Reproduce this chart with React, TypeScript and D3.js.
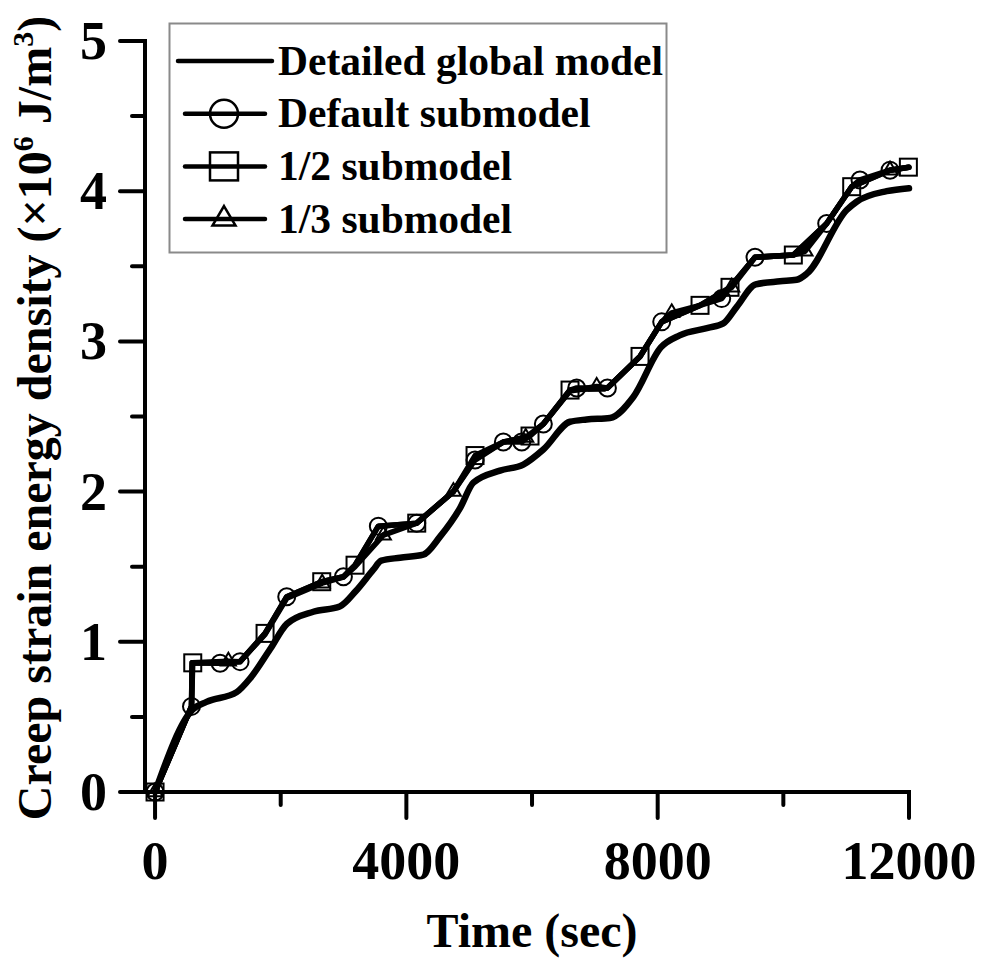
import React from 'react';
import * as d3 from 'd3';

// ---------- data ----------
const xTicksMajor = [0, 4000, 8000, 12000];
const xTicksMinor = [2000, 6000, 10000];
const yTicksMajor = [0, 1, 2, 3, 4, 5];
const yTicksMinor = [0.5, 1.5, 2.5, 3.5, 4.5];

const legendLabels = ['Detailed global model', 'Default submodel', '1/2 submodel', '1/3 submodel'];

// Detailed global model: [time (s), density]
const globalModel: [number, number][] = [
  [0, 0], [600, 0.55], [820, 0.6], [1300, 0.665], [1520, 0.76], [1830, 0.95], [2100, 1.12],
  [2520, 1.2], [2940, 1.235], [3200, 1.34], [3474, 1.48], [3600, 1.54], [3900, 1.56],
  [4270, 1.58], [4536, 1.7], [4854, 1.89], [5066, 2.06], [5490, 2.14], [5862, 2.18],
  [6180, 2.28], [6605, 2.465], [6870, 2.48], [7241, 2.49], [7612, 2.63], [8050, 2.96],
  [8350, 3.04], [8800, 3.09], [9045, 3.12], [9258, 3.23], [9560, 3.38], [9947, 3.4],
  [10212, 3.41], [10371, 3.45], [11008, 3.875], [11167, 3.93], [11645, 4.0], [12000, 4.02],
];

// submodels: [time, density, marker shown (1) or not (0)]
const defaultSub: [number, number, number][] = [
  [0, 0, 1], [580, 0.57, 1], [590, 0.86, 0], [1035, 0.857, 1], [1353, 0.868, 1], [1751, 1.056, 0],
  [2096, 1.3, 1], [2653, 1.4, 0], [2998, 1.433, 1], [3183, 1.51, 0], [3554, 1.77, 1], [4165, 1.79, 1],
  [4748, 2.0, 0], [5093, 2.21, 1], [5544, 2.33, 1], [5836, 2.33, 1], [6180, 2.45, 1], [6605, 2.676, 0],
  [6711, 2.69, 1], [7200, 2.69, 1], [7719, 2.9, 0], [8064, 3.13, 1], [8674, 3.24, 0], [9019, 3.285, 1],
  [9151, 3.36, 0], [9549, 3.56, 1], [10159, 3.575, 0], [10690, 3.785, 1], [11088, 4.03, 0],
  [11220, 4.075, 1], [11698, 4.14, 1], [12000, 4.16, 0],
];

const halfSub: [number, number, number][] = [
  [0, 0, 1], [580, 0.57, 0], [600, 0.86, 1], [1035, 0.857, 0], [1353, 0.868, 0], [1751, 1.056, 1],
  [2096, 1.3, 0], [2653, 1.4, 1], [2998, 1.433, 0], [3183, 1.51, 1], [3554, 1.77, 0], [4165, 1.79, 1],
  [4748, 2.0, 0], [5093, 2.24, 1], [5544, 2.33, 0], [5968, 2.37, 1], [6180, 2.45, 0], [6605, 2.676, 1],
  [7200, 2.69, 0], [7719, 2.9, 1], [8064, 3.13, 0], [8674, 3.24, 1], [9151, 3.36, 1], [9549, 3.56, 0],
  [10159, 3.575, 1], [10690, 3.785, 0], [11088, 4.03, 1], [11698, 4.14, 0], [11990, 4.16, 1],
];

const thirdSub: [number, number, number][] = [
  [0, 0, 1], [580, 0.57, 0], [590, 0.86, 0], [1167, 0.87, 1], [1353, 0.868, 0], [1751, 1.05, 0],
  [2096, 1.29, 0], [2660, 1.39, 1], [2998, 1.43, 0], [3183, 1.5, 0], [3634, 1.71, 1], [4165, 1.79, 0],
  [4748, 2.0, 1], [5093, 2.22, 0], [5544, 2.33, 0], [5900, 2.36, 1], [6180, 2.45, 0], [6605, 2.67, 0],
  [7029, 2.7, 1], [7200, 2.69, 0], [7719, 2.9, 0], [8064, 3.13, 0], [8223, 3.19, 1], [8674, 3.24, 0],
  [9178, 3.36, 1], [9549, 3.56, 0], [10159, 3.575, 0], [10345, 3.6, 1], [10690, 3.785, 0],
  [11088, 4.03, 0], [11698, 4.14, 1], [12000, 4.16, 0],
];

// ---------- layout ----------
const W = 984;
const H = 958;
const FONT = '"Liberation Serif", "Times New Roman", serif';

const x = d3.scaleLinear().domain([-160, 12000]).range([145, 909]);
const y = d3.scaleLinear().domain([0, 5]).range([792, 41]);

const globalLine = d3.line<[number, number]>()
  .x(d => x(d[0])).y(d => y(d[1])).curve(d3.curveMonotoneX);
const subLine = d3.line<[number, number, number]>()
  .x(d => x(d[0])).y(d => y(d[1]));

type Shape = 'circle' | 'square' | 'triangle';

function Marker({ cx, cy, shape, s, sw }: { cx: number; cy: number; shape: Shape; s: number; sw: number }) {
  if (shape === 'circle') {
    return <circle cx={cx} cy={cy} r={s / 2} fill="none" stroke="#000" strokeWidth={sw} />;
  }
  if (shape === 'square') {
    return <rect x={cx - s / 2} y={cy - s / 2} width={s} height={s} fill="none" stroke="#000" strokeWidth={sw} />;
  }
  const h = s * 0.85;
  const p = `M${cx},${cy - (2 * h) / 3} L${cx + s / 2},${cy + h / 3} L${cx - s / 2},${cy + h / 3} Z`;
  return <path d={p} fill="none" stroke="#000" strokeWidth={sw} strokeLinejoin="miter" />;
}

const subSeries: { data: [number, number, number][]; shape: Shape }[] = [
  { data: defaultSub, shape: 'circle' },
  { data: halfSub, shape: 'square' },
  { data: thirdSub, shape: 'triangle' },
];

export default function App() {
  const axisW = 4;
  return (
    <svg
      width={W}
      height={H}
      viewBox={`0 0 ${W} ${H}`}
      style={{ position: 'absolute', left: 0, top: 0, background: '#fff' }}
      fontFamily={FONT}
      fontWeight="bold"
    >
      <rect x={0} y={0} width={W} height={H} fill="#fff" />

      {/* legend box */}
      <rect x={169.5} y={23.5} width={497} height={229} fill="#fff" stroke="#8a8a8a" strokeWidth={2} />

      {/* axes */}
      <line x1={x(-160)} y1={y(5)} x2={x(-160)} y2={y(0)} stroke="#000" strokeWidth={axisW} strokeLinecap="square" />
      <line x1={x(-160)} y1={y(0)} x2={x(12000)} y2={y(0)} stroke="#000" strokeWidth={axisW} strokeLinecap="square" />
      {yTicksMajor.map(v => (
        <g key={'ym' + v}>
          <line x1={x(-160) - 25} x2={x(-160)} y1={y(v)} y2={y(v)} stroke="#000" strokeWidth={axisW} strokeLinecap="round" />
          <text x={107} y={y(v)} dy={18} textAnchor="end" fontSize={54}>{v}</text>
        </g>
      ))}
      {yTicksMinor.map(v => (
        <line key={'yn' + v} x1={x(-160) - 13} x2={x(-160)} y1={y(v)} y2={y(v)} stroke="#000" strokeWidth={axisW} strokeLinecap="round" />
      ))}
      {xTicksMajor.map(t => (
        <g key={'xm' + t}>
          <line x1={x(t)} x2={x(t)} y1={y(0)} y2={y(0) + 26} stroke="#000" strokeWidth={axisW} strokeLinecap="round" />
          <text x={x(t)} y={879} textAnchor="middle" fontSize={54}>{t}</text>
        </g>
      ))}
      {xTicksMinor.map(t => (
        <line key={'xn' + t} x1={x(t)} x2={x(t)} y1={y(0)} y2={y(0) + 13} stroke="#000" strokeWidth={axisW} strokeLinecap="round" />
      ))}

      {/* axis titles */}
      <text x={532} y={947} textAnchor="middle" fontSize={48}>Time (sec)</text>
      <text transform="translate(51,418) rotate(-90)" textAnchor="middle" fontSize={48}>
        Creep strain energy density (×10<tspan dy={-18} fontSize={30}>6</tspan>
        <tspan dy={18}> J/m</tspan>
        <tspan dy={-18} fontSize={30}>3</tspan>
        <tspan dy={18}>)</tspan>
      </text>

      {/* data lines */}
      <path d={globalLine(globalModel) || ''} fill="none" stroke="#000" strokeWidth={6.5} strokeLinejoin="round" strokeLinecap="round" />
      {subSeries.map((s, i) => (
        <path key={'sl' + i} d={subLine(s.data) || ''} fill="none" stroke="#000" strokeWidth={5.5} strokeLinejoin="round" strokeLinecap="round" />
      ))}
      {subSeries.map((s, i) => (
        <g key={'sm' + i}>
          {s.data.filter(d => d[2] === 1).map((d, j) => (
            <Marker key={j} cx={x(d[0])} cy={y(d[1])} shape={s.shape} s={s.shape === 'triangle' ? 15 : 17} sw={2} />
          ))}
        </g>
      ))}

      {/* legend entries */}
      {legendLabels.map((label, i) => {
        const ly = 61 + i * 52.7;
        const shape: Shape | null = i === 0 ? null : subSeries[i - 1].shape;
        return (
          <g key={'lg' + i}>
            <line x1={i === 0 ? 178 : 185} x2={i === 0 ? 272 : 265} y1={ly} y2={ly} stroke="#000" strokeWidth={4.5} strokeLinecap="round" />
            {shape && (
              <Marker cx={224} cy={ly} shape={shape} s={shape === 'triangle' ? 23 : 28} sw={2.5} />
            )}
            <text x={278} y={ly + 13.5} fontSize={41.5}>{label}</text>
          </g>
        );
      })}
    </svg>
  );
}
